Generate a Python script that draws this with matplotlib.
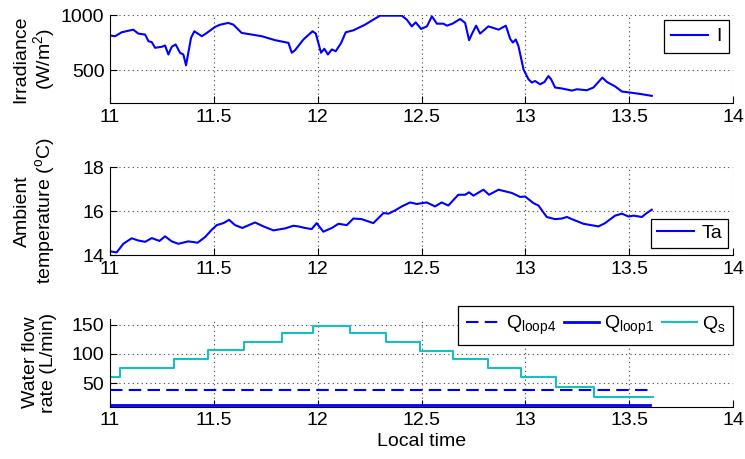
import numpy as np
import matplotlib.pyplot as plt

plt.rcParams['font.family'] = ['Liberation Sans', 'DejaVu Sans']
plt.rcParams['font.size'] = 14
plt.rcParams['mathtext.fontset'] = 'custom'
plt.rcParams['mathtext.rm'] = 'Liberation Sans'
plt.rcParams['mathtext.it'] = 'Liberation Sans'

# irradiance (W/m2) vs local time (h)
t_irr = [11.005, 11.024, 11.056, 11.112, 11.136, 11.169, 11.185, 11.201, 11.217, 11.249,
         11.265, 11.281, 11.297, 11.316, 11.337, 11.353, 11.366, 11.377, 11.39, 11.406,
         11.442, 11.466, 11.506, 11.53, 11.57, 11.594, 11.634, 11.683, 11.731, 11.795,
         11.859, 11.875, 11.891, 11.931, 11.975, 11.991, 12.003, 12.016, 12.032, 12.049,
         12.068, 12.087, 12.113, 12.135, 12.172, 12.228, 12.268, 12.3, 12.405, 12.429,
         12.453, 12.472, 12.498, 12.526, 12.55, 12.574, 12.606, 12.622, 12.649, 12.686,
         12.71, 12.729, 12.745, 12.763, 12.782, 12.822, 12.871, 12.906, 12.927, 12.94,
         12.954, 12.967, 12.991, 13.015, 13.031, 13.047, 13.071, 13.092, 13.111, 13.124,
         13.143, 13.176, 13.224, 13.248, 13.296, 13.328, 13.371, 13.393, 13.433, 13.465,
         13.505, 13.561, 13.609]
irr = [813, 807, 843, 867, 831, 822, 762, 753, 702, 711,
       723, 641, 711, 732, 657, 641, 542, 657, 792, 852,
       807, 837, 892, 912, 928, 912, 837, 822, 807, 771,
       747, 657, 680, 777, 852, 831, 747, 657, 693, 641,
       687, 671, 747, 843, 861, 912, 958, 994, 994, 958,
       897, 933, 873, 897, 988, 921, 921, 903, 921, 964,
       928, 771, 837, 903, 831, 897, 867, 903, 783, 750,
       777, 716, 506, 416, 386, 400, 370, 391, 445, 416,
       341, 332, 313, 325, 316, 341, 431, 391, 350, 304,
       295, 280, 265]

# ambient temperature (C)
t_amb = [11.005, 11.032, 11.064, 11.104, 11.136, 11.169, 11.201, 11.238, 11.265, 11.297,
         11.329, 11.377, 11.422, 11.458, 11.49, 11.514, 11.546, 11.573, 11.602, 11.637,
         11.698, 11.739, 11.787, 11.843, 11.883, 11.907, 11.939, 11.971, 11.995, 12.027,
         12.068, 12.1, 12.14, 12.172, 12.212, 12.268, 12.317, 12.341, 12.373, 12.405,
         12.445, 12.477, 12.525, 12.565, 12.597, 12.629, 12.677, 12.71, 12.729, 12.75,
         12.798, 12.825, 12.871, 12.935, 12.975, 12.999, 13.039, 13.063, 13.103, 13.143,
         13.176, 13.2, 13.224, 13.28, 13.352, 13.384, 13.432, 13.465, 13.497, 13.521,
         13.561, 13.585, 13.609]
ta = [14.16, 14.12, 14.51, 14.76, 14.66, 14.6, 14.77, 14.64, 14.85, 14.62,
      14.51, 14.62, 14.56, 14.82, 15.15, 15.36, 15.45, 15.6, 15.36, 15.23,
      15.48, 15.3, 15.12, 15.21, 15.33, 15.3, 15.23, 15.18, 15.45, 15.06,
      15.23, 15.42, 15.36, 15.66, 15.63, 15.45, 15.91, 15.88, 16.03, 16.21,
      16.39, 16.32, 16.39, 16.21, 16.39, 16.25, 16.74, 16.74, 16.85, 16.7,
      16.97, 16.74, 16.97, 16.82, 16.64, 16.66, 16.36, 16.25, 15.73, 15.63,
      15.66, 15.73, 15.63, 15.42, 15.3, 15.45, 15.79, 15.88, 15.75, 15.79,
      15.73, 15.91, 16.06]

# water flow rates (L/min): Qs changes in steps
t_qs = [11.0, 11.048, 11.31, 11.47, 11.644, 11.83, 11.975, 12.156, 12.328, 12.494,
        12.65, 12.82, 12.98, 13.148, 13.33, 13.614]
qs = [61, 76, 91, 106, 121, 135, 148, 135, 121, 105, 91, 76, 60, 44, 26, 26]
t_loop = [11.0, 13.6]
q_loop4 = [38.5, 38.5]
q_loop1 = [13.5, 13.5]

xt = [11, 11.5, 12, 12.5, 13, 13.5, 14]
xt_labels = ['11', '11.5', '12', '12.5', '13', '13.5', '14']

fig = plt.figure(figsize=(7.45, 4.59), dpi=100)
ax1 = fig.add_axes([0.1477, 0.7756, 0.8362, 0.1917])
ax2 = fig.add_axes([0.1477, 0.4444, 0.8362, 0.1917])
ax3 = fig.add_axes([0.1477, 0.1140, 0.8362, 0.1917])

ax1.plot(t_irr, irr, color='b', lw=1.5, label='I')
ax1.set_ylim(200, 1000)
ax1.set_yticks([500, 1000])
ax1.set_ylabel('Irradiance\n(W/m$^2$)', linespacing=1.1)
ax1.legend(loc='upper right', bbox_to_anchor=(0.994, 0.943), borderaxespad=0,
           handlelength=1.9, handletextpad=0.4)

ax2.plot(t_amb, ta, color='b', lw=1.5, label='Ta')
ax2.set_ylim(14, 18)
ax2.set_yticks([14, 16, 18])
ax2.set_ylabel('Ambient\ntemperature ($^o$C)', linespacing=1.1)
ax2.legend(loc='lower right', bbox_to_anchor=(0.992, 0.08), borderaxespad=0,
           handlelength=1.9, handletextpad=0.4, borderpad=0.3)

ax3.plot(t_loop, q_loop4, color='b', lw=1.5, ls=(0, (6, 3)), label='Q$_{\\rm loop4}$')
ax3.plot(t_loop, q_loop1, color='b', lw=2.0, label='Q$_{\\rm loop1}$')
ax3.step(t_qs, qs, where='post', color='#17bfbf', lw=1.5, label='Q$_{\\rm s}$')
ax3.set_ylim(10, 160)
ax3.set_yticks([50, 100, 150])
ax3.set_ylabel('Water flow\nrate (L/min)', linespacing=1.1)
ax3.set_xlabel('Local time', labelpad=3)
ax3.legend(loc='upper right', bbox_to_anchor=(1.0, 1.145), borderaxespad=0, ncol=3,
           handlelength=1.8, handletextpad=0.25, columnspacing=0.4, borderpad=0.4)

for ax in (ax1, ax2, ax3):
    ax.set_xlim(11, 14)
    ax.set_xticks(xt)
    ax.set_xticklabels(xt_labels)
    ax.grid(True, color='0.25', ls=(0, (1, 3)), lw=0.8)
    ax.spines['top'].set_visible(False)
    ax.spines['right'].set_visible(False)
    ax.tick_params(direction='in', length=5, width=0.8, pad=4)
    leg = ax.get_legend()
    leg.get_frame().set_edgecolor('k')
    leg.get_frame().set_linewidth(0.9)
    leg.get_frame().set_boxstyle('square', pad=0)
    leg.get_frame().set_alpha(1)
    ax.yaxis.set_label_coords(-0.085, 0.5)

fig.savefig('out.png', dpi=100)
